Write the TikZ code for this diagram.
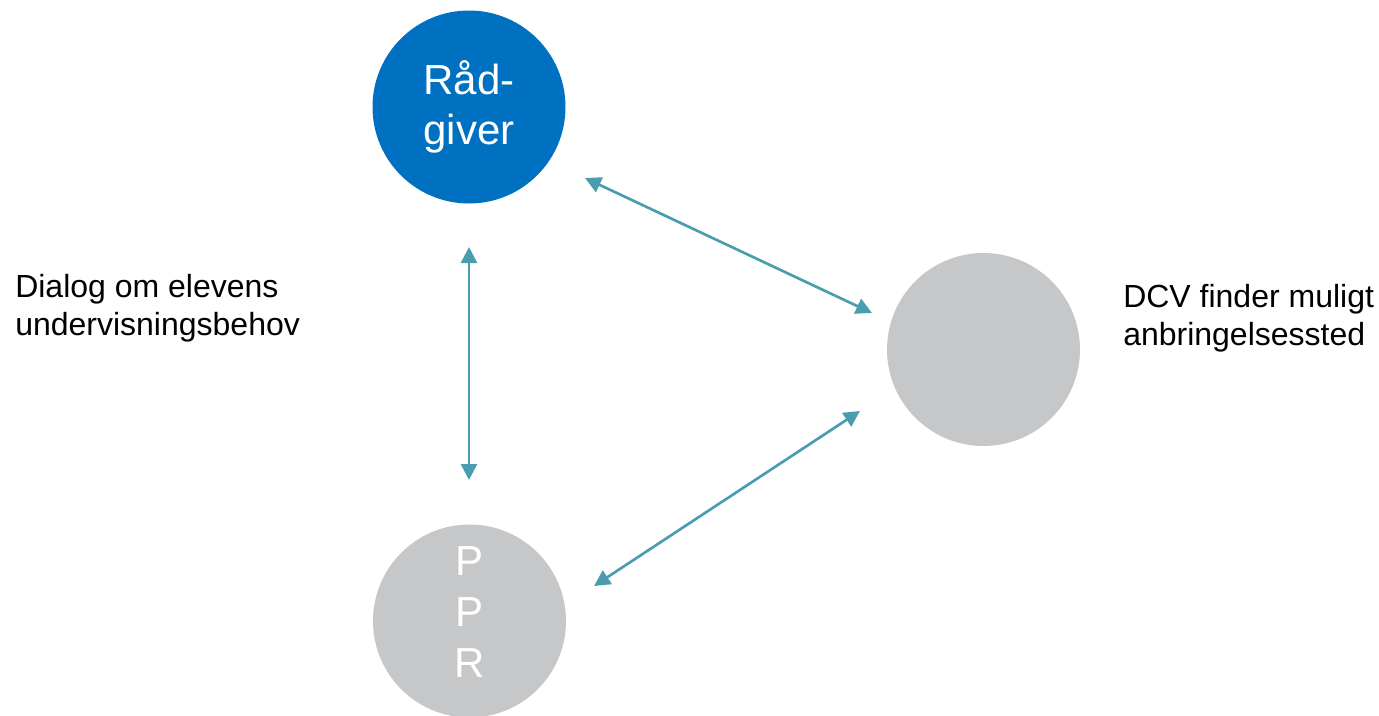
\documentclass[tikz,border=0pt]{standalone}
\usepackage{fontspec}
\setmainfont{Liberation Sans}
\usetikzlibrary{arrows.meta}
\definecolor{blueC}{HTML}{0070C0}
\definecolor{greyC}{HTML}{C6C7C9}
\definecolor{tealC}{HTML}{4A9CAF}
\tikzset{
  circ/.style={circle, minimum size=144.75pt, inner sep=0pt, text=white, align=center,
    font=\fontsize{31.5}{38}\selectfont},
  circtext/.style={inner sep=0pt, text=white, align=center, font=\fontsize{31.5}{38}\selectfont},
  conn/.style={draw=tealC, line width=2pt, {Triangle[length=12pt,width=12pt]}-{Triangle[length=12pt,width=12pt]}},
  label/.style={align=left, inner sep=0pt, font=\fontsize{24}{28.5}\selectfont, text=black}
}
\begin{document}
\begin{tikzpicture}[x=0.75pt,y=-0.75pt]
\useasboundingbox (0,0) rectangle (1379,715);
\node[circ, fill=blueC] (rad) at (469,107) {Råd-\\giver};
\node[circ, fill=greyC] (ppr) at (469.5,621) {};
\node[circtext] (pprtext) at (469.5,612) {P\\P\\R};
\node[circ, fill=greyC] (dcv) at (983.5,349.5) {};
\coordinate (r1) at (469,247);
\coordinate (p1) at (469,480);
\coordinate (r2) at (585,178);
\coordinate (d1) at (872,313);
\coordinate (p2) at (594,586);
\coordinate (d2) at (860,411);
\draw[conn] (r1) -- (p1);
\draw[conn] (r2) -- (d1);
\draw[conn] (p2) -- (d2);
\node[label, anchor=base west] (dialog) at (15,335) {Dialog om elevens\\undervisningsbehov};
\node[label, anchor=base west] (dcvtext) at (1123,345) {DCV finder muligt\\anbringelsessted};
\end{tikzpicture}
\end{document}
